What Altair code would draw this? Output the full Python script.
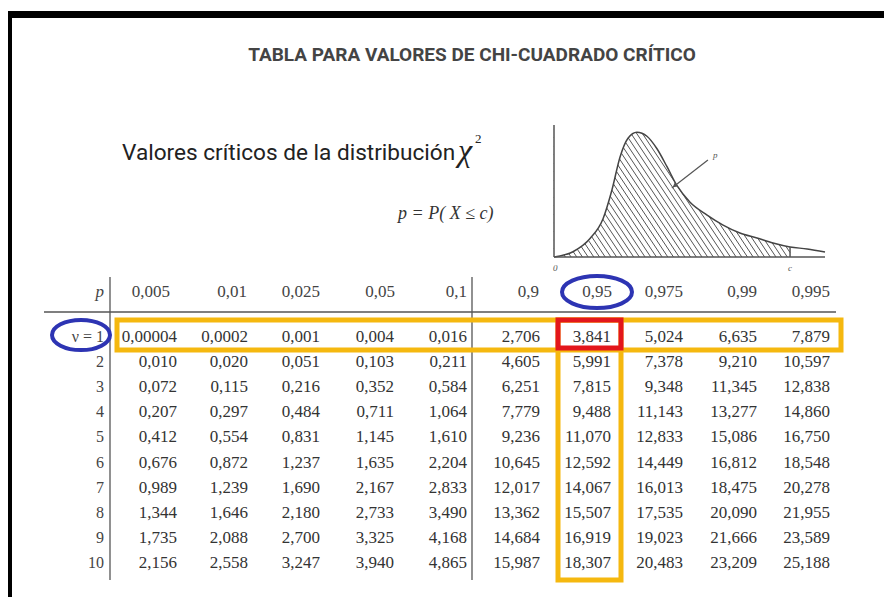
import numpy as np
import pandas as pd
import altair as alt

# ---------------- data ----------------
p_labels = ["0,005", "0,01", "0,025", "0,05", "0,1", "0,9", "0,95", "0,975", "0,99", "0,995"]
nu_labels = ["ν = 1", "2", "3", "4", "5", "6", "7", "8", "9", "10"]

v1 = [0.00004, 0.0002, 0.001, 0.004, 0.016, 2.706, 3.841, 5.024, 6.635, 7.879]
v2 = [0.010, 0.020, 0.051, 0.103, 0.211, 4.605, 5.991, 7.378, 9.210, 10.597]
v3 = [0.072, 0.115, 0.216, 0.352, 0.584, 6.251, 7.815, 9.348, 11.345, 12.838]
v4 = [0.207, 0.297, 0.484, 0.711, 1.064, 7.779, 9.488, 11.143, 13.277, 14.860]
v5 = [0.412, 0.554, 0.831, 1.145, 1.610, 9.236, 11.070, 12.833, 15.086, 16.750]
v6 = [0.676, 0.872, 1.237, 1.635, 2.204, 10.645, 12.592, 14.449, 16.812, 18.548]
v7 = [0.989, 1.239, 1.690, 2.167, 2.833, 12.017, 14.067, 16.013, 18.475, 20.278]
v8 = [1.344, 1.646, 2.180, 2.733, 3.490, 13.362, 15.507, 17.535, 20.090, 21.955]
v9 = [1.735, 2.088, 2.700, 3.325, 4.168, 14.684, 16.919, 19.023, 21.666, 23.589]
v10 = [2.156, 2.558, 3.247, 3.940, 4.865, 15.987, 18.307, 20.483, 23.209, 25.188]
values = [v1, v2, v3, v4, v5, v6, v7, v8, v9, v10]

# density sketch (percent of axis width / height)
curve_u = [0, 7.0, 13.3, 18.1, 21.4, 24.4, 27.3, 30.6, 34.3, 38.0, 41.7, 45.4,
           50.2, 56.5, 62.4, 68.6, 74.9, 80.8, 87.1, 93.4, 100]
curve_h = [0, 4.0, 14.0, 29.0, 51, 76.0, 90.0, 94.5, 91.5, 82, 68.4, 54,
           41.5, 31.8, 24.2, 18.2, 14.4, 10.6, 7.6, 6.1, 3.8]
c_u = 87.1

title_text = "TABLA PARA VALORES DE CHI-CUADRADO CRÍTICO"
subtitle_text = "Valores críticos de la distribución"
prob_text = "p = P( X ≤ c)"

# ---------------- layout (reference pixel frame) ----------------
COL_RIGHT = [177, 248, 320, 394, 467, 540, 611, 683, 757, 830]
HEAD_RIGHT = [170, 247, 320, 395, 467, 539, 612, 683, 757, 830]
ROW_Y = [337 + 25.1 * i for i in range(10)]
HEAD_Y = 292
LABEL_RIGHT = 104
HIGHLIGHT_COL = 6   # p = 0,95
HIGHLIGHT_ROW = 0   # nu = 1

YELLOW = "#F5B80F"
RED = "#E3161B"
BLUE = "#2D34B3"
INK = "#333333"
SERIF = "Liberation Serif"
SANS = "Roboto, sans-serif"


def fmt(v):
    s = f"{v:.3f}" if v >= 0.001 else np.format_float_positional(v, trim="-")
    return s.replace(".", ",")


XS = alt.Scale(domain=[8, 884], nice=False, zero=False)
YS = alt.Scale(domain=[8, 597], nice=False, zero=False, reverse=True)


def xy(ch, rect=False):
    enc = dict(x=alt.X("x:Q", scale=XS, axis=None), y=alt.Y("y:Q", scale=YS, axis=None))
    if rect:
        enc["x2"] = "x2:Q"
        enc["y2"] = "y2:Q"
    return ch.encode(**enc)


cells = pd.DataFrame([
    {"x": COL_RIGHT[j], "y": ROW_Y[i], "t": fmt(values[i][j])}
    for i in range(10) for j in range(10)
])
heads = pd.DataFrame({"x": HEAD_RIGHT, "y": [HEAD_Y] * 10, "t": p_labels})
rowlab = pd.DataFrame({"x": [LABEL_RIGHT] * 10, "y": ROW_Y, "t": nu_labels})

frame = pd.DataFrame({"x": [8, 8], "x2": [884, 12], "y": [11, 11], "y2": [18, 597]})
lines = pd.DataFrame({
    "x": [44, 110, 472], "x2": [836, 110, 472],
    "y": [312, 277, 277], "y2": [312, 580, 580],
})

row_box = pd.DataFrame({"x": [117], "x2": [841], "y": [ROW_Y[HIGHLIGHT_ROW] - 17], "y2": [ROW_Y[HIGHLIGHT_ROW] + 13]})
col_box = pd.DataFrame({"x": [COL_RIGHT[HIGHLIGHT_COL] - 53], "x2": [COL_RIGHT[HIGHLIGHT_COL] + 10],
                        "y": [ROW_Y[HIGHLIGHT_ROW] - 17], "y2": [580]})
red_box = pd.DataFrame({"x": [COL_RIGHT[HIGHLIGHT_COL] - 53], "x2": [COL_RIGHT[HIGHLIGHT_COL] + 10],
                        "y": [ROW_Y[HIGHLIGHT_ROW] - 17], "y2": [ROW_Y[HIGHLIGHT_ROW] + 11]})

ELL_HEAD = "M-1,0A1,0.46,0,1,1,1,0A1,0.46,0,1,1,-1,0Z"
ELL_ROW = "M-1,0A1,0.52,0,1,1,1,0A1,0.52,0,1,1,-1,0Z"
ell_head = pd.DataFrame({"x": [597], "y": [HEAD_Y]})
ell_row = pd.DataFrame({"x": [81], "y": [ROW_Y[HIGHLIGHT_ROW] - 2]})

texts_title = pd.DataFrame({"x": [472], "y": [55], "t": [title_text]})
texts_sub = pd.DataFrame({"x": [122], "y": [160], "t": [subtitle_text]})
texts_chi = pd.DataFrame({"x": [458], "y": [161], "t": ["χ"]})
texts_sq = pd.DataFrame({"x": [475], "y": [143], "t": ["2"]})
texts_prob = pd.DataFrame({"x": [398], "y": [214], "t": [prob_text]})

table_layers = [
    xy(alt.Chart(frame).mark_rect(color="black"), rect=True),
    xy(alt.Chart(lines).mark_rule(color="#555", strokeWidth=1.3), rect=True),
    xy(alt.Chart(row_box).mark_rect(fillOpacity=0, stroke=YELLOW, strokeWidth=5), rect=True),
    xy(alt.Chart(col_box).mark_rect(fillOpacity=0, stroke=YELLOW, strokeWidth=5), rect=True),
    xy(alt.Chart(red_box).mark_rect(fillOpacity=0, stroke=RED, strokeWidth=5), rect=True),
    xy(alt.Chart(ell_head).mark_point(shape=ELL_HEAD, size=70 * 70, filled=False, stroke=BLUE, strokeWidth=4, opacity=1)),
    xy(alt.Chart(ell_row).mark_point(shape=ELL_ROW, size=58 * 58, filled=False, stroke=BLUE, strokeWidth=4, opacity=1)),
    xy(alt.Chart(cells).mark_text(align="right", baseline="middle", font=SERIF, fontSize=17, color=INK)).encode(text="t:N"),
    xy(alt.Chart(heads).mark_text(align="right", baseline="middle", font=SERIF, fontSize=17, color="#444")).encode(text="t:N"),
    xy(alt.Chart(rowlab).mark_text(align="right", baseline="middle", font=SERIF, fontSize=16, color="#444")).encode(text="t:N"),
    xy(alt.Chart(pd.DataFrame({"x": [LABEL_RIGHT], "y": [HEAD_Y], "t": ["p"]})).mark_text(
        align="right", baseline="middle", font=SERIF, fontSize=17, fontStyle="italic", color="#444")).encode(text="t:N"),
    xy(alt.Chart(texts_title).mark_text(align="center", baseline="middle", font=SANS, fontSize=19,
                                        fontWeight="bold", color="#444")).encode(text="t:N"),
    xy(alt.Chart(texts_sub).mark_text(align="left", baseline="alphabetic", font=SANS, fontSize=22.6,
                                      color="#222")).encode(text="t:N"),
    xy(alt.Chart(texts_chi).mark_text(align="left", baseline="alphabetic", font=SERIF, fontSize=32,
                                      fontStyle="italic", color="#222")).encode(text="t:N"),
    xy(alt.Chart(texts_sq).mark_text(align="left", baseline="alphabetic", font=SERIF, fontSize=13,
                                     color="#222")).encode(text="t:N"),
    xy(alt.Chart(texts_prob).mark_text(align="left", baseline="middle", font=SERIF, fontSize=18,
                                       fontStyle="italic", color="#333")).encode(text="t:N"),
]
table_block = alt.layer(*table_layers)

# ---------------- density sketch ----------------
US = alt.Scale(domain=[0, 100], range=[546, 817], nice=False, zero=False)
HS = alt.Scale(domain=[0, 100], range=[249, 117], nice=False, zero=False)
UX = alt.X("u:Q", scale=US, axis=None)
HY = alt.Y("h:Q", scale=HS, axis=None)

curve = pd.DataFrame({"u": curve_u, "h": curve_h})
SLOPE = 3.08
SPAN = 100 / SLOPE
hatch = (
    alt.Chart(alt.sequence(0, 58, as_="k"))
    .transform_calculate(a=f"-{SPAN} + 2.1 * datum.k")
    .transform_calculate(ua="max(datum.a, 0)", ub=f"min(datum.a + {SPAN}, {c_u})")
    .transform_filter("datum.ua < datum.ub")
    .transform_calculate(u="datum.ua", h=f"100 - (datum.ua - datum.a) * {SLOPE}",
                         u2="datum.ub", h2=f"100 - (datum.ub - datum.a) * {SLOPE}")
    .mark_rule(color="#555", strokeWidth=1)
    .encode(x=UX, y=HY, x2="u2:Q", y2="h2:Q")
)
mask = alt.Chart(curve).mark_area(color="white", interpolate="monotone", opacity=1).encode(
    x=UX, y=HY, y2=alt.datum(101))
curve_line = alt.Chart(curve).mark_line(color="#444", strokeWidth=1.5, interpolate="monotone").encode(x=UX, y=HY)
axes_df = pd.DataFrame({"u": [0, 0, c_u], "h": [0, 100, 0], "u2": [100, 0, c_u], "h2": [0, 0, 7.6]})
axes = alt.Chart(axes_df).mark_rule(color="#555", strokeWidth=1.5).encode(x=UX, y=HY, x2="u2:Q", y2="h2:Q")
arrow = alt.Chart(pd.DataFrame({"u": [56.8], "h": [73.5], "u2": [43.5], "h2": [52.3]})).mark_rule(
    color="#555", strokeWidth=1.2).encode(x=UX, y=HY, x2="u2:Q", y2="h2:Q")
arrow_head = alt.Chart(pd.DataFrame({"u": [44.5], "h": [54]})).mark_point(
    shape="triangle-up", filled=True, size=28, angle=232, color="#555", opacity=1).encode(x=UX, y=HY)
small = pd.DataFrame({"u": [0.5, 87.1, 59.5], "h": [-8.5, -8.5, 77], "t": ["0", "c", "p"]})
small_txt = alt.Chart(small).mark_text(font=SERIF, fontSize=9, fontStyle="italic", color="#555").encode(
    x=UX, y=HY, text="t:N")

curve_block = alt.layer(hatch, mask, curve_line, axes, arrow, arrow_head, small_txt)

chart = (
    alt.layer(table_block, curve_block)
    .resolve_scale(x="independent", y="independent")
    .properties(width=876, height=589, padding=0, background="white",
                autosize=alt.AutoSizeParams(type="none"))
    .configure_view(stroke=None)
)

chart.save("out.html", embed_options={"renderer": "svg", "actions": False})
